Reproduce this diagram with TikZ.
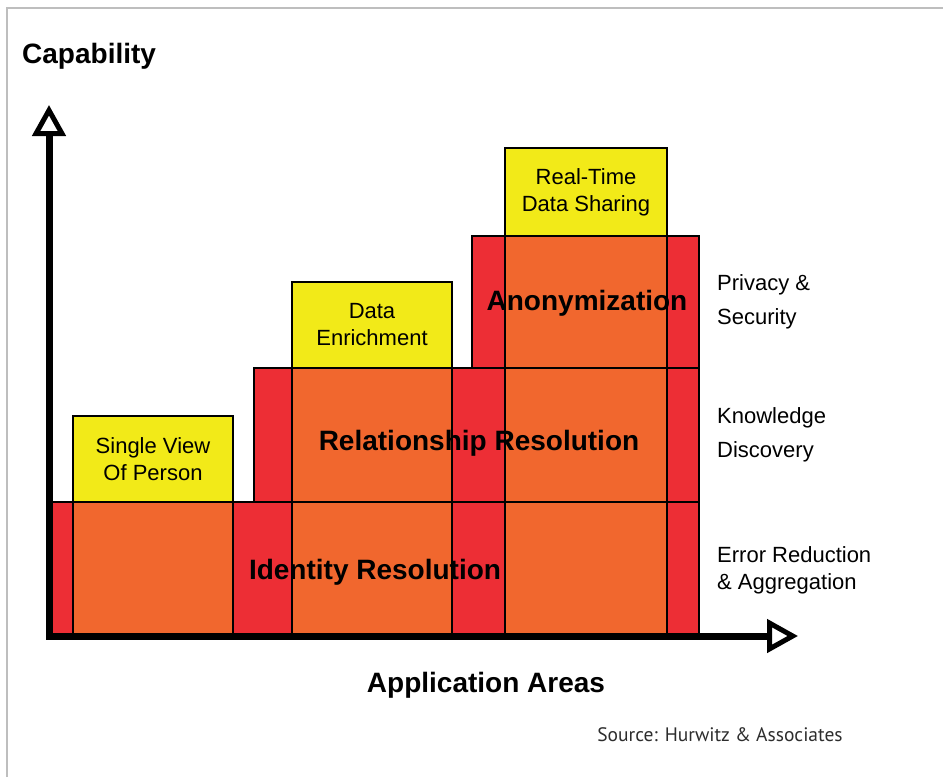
\documentclass[tikz,border=0pt]{standalone}
\usepackage{fontspec}
\setmainfont{Liberation Sans}
\newfontfamily\srcfont{PT Sans}
\usetikzlibrary{arrows.meta}
\definecolor{capred}{RGB}{237,46,53}
\definecolor{caporange}{RGB}{241,103,46}
\definecolor{capyellow}{RGB}{242,234,24}
\definecolor{framegray}{RGB}{190,190,190}
\definecolor{srcgray}{RGB}{45,45,45}

\begin{document}
\begin{tikzpicture}[x=1pt, y=-1pt,
  cell/.style={draw, line width=1.6pt},
  redcell/.style={cell, fill=capred},
  orgcell/.style={cell, fill=caporange},
  ylwbox/.style={cell, fill=capyellow, outer sep=0pt, inner sep=0pt, anchor=north west, align=center, font=\fontsize{22}{27}\selectfont},
  heading/.style={font=\bfseries\fontsize{28}{34}\selectfont, anchor=base},
  side/.style={font=\fontsize{22}{#1}\selectfont, align=left, anchor=west, inner sep=0pt},
  axis/.style={<->, >={Triangle[fill=white, length=31pt, width=33pt, line width=5pt]}, line width=7pt, line join=miter}
]
\useasboundingbox (0,0) rectangle (943,777);
\draw[framegray, line width=2pt] (7,777) -- (7,8) -- (943,8);

% capability rows
\draw[redcell] (52,502) rectangle (699,634);
\draw[redcell] (254,368) rectangle (699,502);
\draw[redcell] (472,236) rectangle (699,368);

% application columns
\draw[orgcell] (73,502) rectangle (233,634);
\draw[orgcell] (292,502) rectangle (452,634);
\draw[orgcell] (505,502) rectangle (667,634);
\draw[orgcell] (292,368) rectangle (452,502);
\draw[orgcell] (505,368) rectangle (667,502);
\draw[orgcell] (505,236) rectangle (667,368);

% applications on top of each column
\node[ylwbox, minimum width=160pt, minimum height=86pt] (single) at (73,416) {Single View\\Of Person};
\node[ylwbox, minimum width=160pt, minimum height=86pt] (enrich) at (292,282) {Data\\Enrichment};
\node[ylwbox, minimum width=162pt, minimum height=88pt] (realtime) at (505,148) {Real-Time\\Data Sharing};

\node[heading] (identity) at (375,579) {Identity Resolution};
\node[heading] (relation) at (479,450) {Relationship Resolution};
\node[heading] (anon) at (587,310) {Anonymization};

\node[side=34pt] (privacy) at (717,302) {Privacy \&\\Security};
\node[side=34pt] (knowledge) at (717,435) {Knowledge\\Discovery};
\node[side=27pt] (errors) at (717,570) {Error Reduction\\\& Aggregation};

% axes
\coordinate (origin) at (49,636);
\coordinate (ytop) at (49,105);
\coordinate (xend) at (798,636);
\draw[axis] (ytop) -- (origin) -- (xend);

\node[heading, anchor=base west, inner sep=0pt] (capability) at (22,63) {Capability};
\node[heading] (areas) at (486,692) {Application Areas};
\node[font=\srcfont\fontsize{19.5}{23}\selectfont, text=srcgray, anchor=base] (source) at (720,741) {Source: Hurwitz \& Associates};
\end{tikzpicture}
\end{document}
